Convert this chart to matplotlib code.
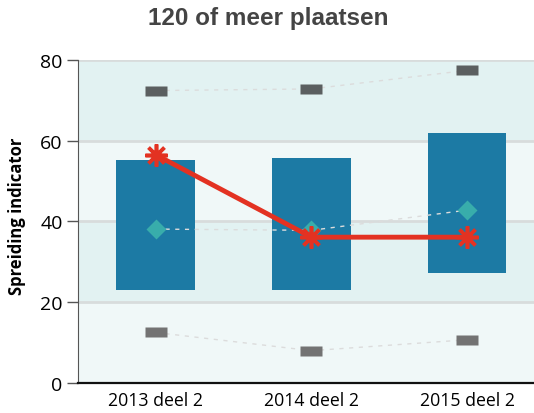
import numpy as np
import matplotlib
matplotlib.use('Agg')
import matplotlib.pyplot as plt

# data
categories = ['2013 deel 2', '2014 deel 2', '2015 deel 2']
box_low = [22.9, 23.1, 27.3]
box_high = [55.2, 55.7, 61.9]
school_value = [56.5, 36.1, 36.1]
median_value = [38.1, 37.8, 42.8]
upper_value = [72.4, 72.8, 77.4]
lower_value = [12.5, 8.0, 10.7]
yticks = [0, 20, 40, 60, 80]

fig = plt.figure(figsize=(5.34, 4.14), dpi=100)
ax = fig.add_axes([0.146, 0.0725, 0.854, 0.7805])

x = np.arange(len(categories))

# horizontal background bands
band_colors = ['#f0f8f8', '#e2f2f2', '#f0f8f8', '#e2f2f2']
for i, c in enumerate(band_colors):
    ax.axhspan(yticks[i], yticks[i + 1], color=c, zorder=0, lw=0)
for y in yticks[1:]:
    ax.axhline(y, color='#d8dcdc', lw=2, zorder=1)

heights = np.array(box_high) - np.array(box_low)
ax.bar(x, heights, bottom=box_low, width=0.506, color='#1c7aa4', zorder=2)

dash_style = dict(color='#dcdcdc', lw=1, dashes=(3, 4), zorder=3)
ax.plot(x, upper_value, **dash_style)
ax.plot(x, lower_value, **dash_style)
ax.plot(x, median_value, **dash_style)

rect = [(-1, -0.48), (1, -0.48), (1, 0.48), (-1, 0.48), (-1, -0.48)]
ax.plot(x, upper_value, ls='none', marker=rect, ms=15.5, color='#5b5f60',
        mec='none', zorder=4)
ax.plot(x, lower_value, ls='none', marker=rect, ms=15.5, color='#737373',
        mec='none', zorder=4)
ax.plot(x, median_value, ls='none', marker='D', ms=10, color='#38adab',
        mec='none', zorder=4)

ax.plot(x, school_value, color='#e33222', lw=3.5, zorder=5)
ax.plot(x, school_value, ls='none', marker=(8, 2, 0), ms=16, mew=2.6,
        color='#e33222', zorder=6)

ax.set_xlim(-0.5, 2.43)
ax.set_ylim(0, 80)
ax.set_yticks(yticks)
ax.set_xticks(x)
ax.set_xticklabels(categories, fontsize=12.8, family='Open Sans')
ax.tick_params(axis='x', length=0, pad=6)
ax.tick_params(axis='y', length=8, width=1, color='#555555', pad=3, labelsize=14)
for lbl in ax.get_yticklabels():
    lbl.set_family('Open Sans')

ax.spines['top'].set_visible(False)
ax.spines['right'].set_visible(False)
ax.spines['left'].set_color('#555555')
ax.spines['bottom'].set_color('#111111')
ax.spines['bottom'].set_linewidth(1.6)

fig.text(0.032, 0.478, 'Spreiding indicator', rotation=90, ha='center', va='center',
         fontsize=12, fontweight='bold',
         family=['Liberation Sans Narrow', 'Open Sans'])

fig.text(0.502, 0.955, '120 of meer plaatsen', ha='center', va='center',
         fontsize=17.5, fontweight='bold', color='#444444', family='Liberation Sans')

fig.savefig('out.png', dpi=100)
